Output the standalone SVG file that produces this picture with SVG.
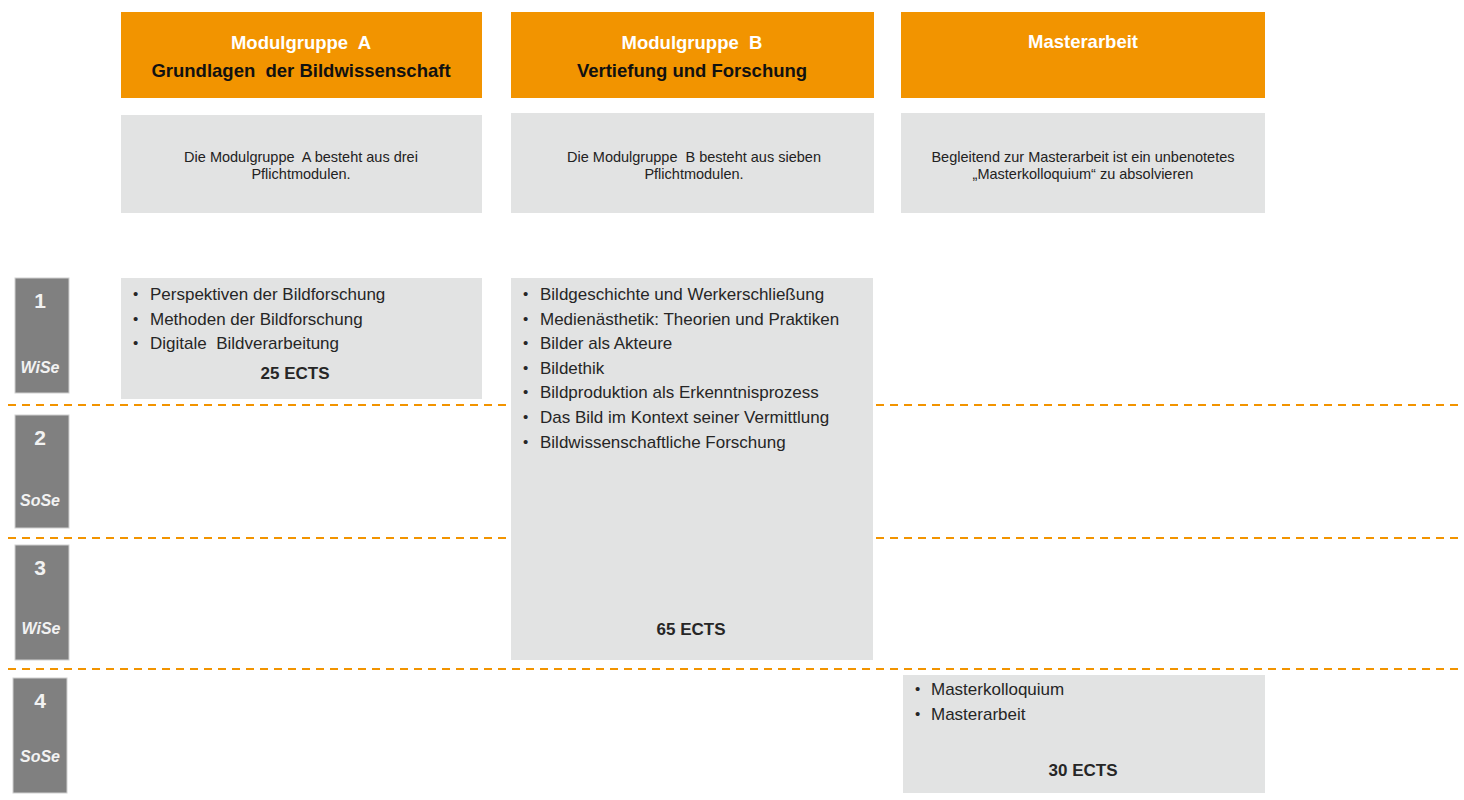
<svg xmlns="http://www.w3.org/2000/svg" width="1464" height="800" viewBox="0 0 1464 800">
<style>
text{font-family:"Liberation Sans",Arial,sans-serif;white-space:pre}
.hdr{fill:#F29400}
.box{fill:#E2E3E3}
.sem{fill:#808080;stroke:#d0d0d0;stroke-width:1}
.h1{font-size:18.5px;font-weight:bold;fill:#fff;text-anchor:middle}
.h2{font-size:18.5px;font-weight:bold;fill:#111;text-anchor:middle}
.desc{font-size:14.5px;fill:#222;text-anchor:middle}
.li{font-size:17px;fill:#262626}
.bu{font-size:15px;fill:#262626}
.ects{font-size:17px;font-weight:bold;fill:#262626;text-anchor:middle}
.num{font-size:21px;font-weight:bold;fill:#f2f2f2;text-anchor:middle}
.ses{font-size:16px;font-weight:bold;font-style:italic;fill:#f2f2f2;text-anchor:middle}
.dash{stroke:#F29400;stroke-width:2;stroke-dasharray:8 6;fill:none}
</style>
<rect width="1464" height="800" fill="#fff"/>
<g id="connectors">
<line class="dash" x1="8" y1="405" x2="1464" y2="405"/>
<line class="dash" x1="8" y1="538" x2="1464" y2="538"/>
<line class="dash" x1="8" y1="669" x2="1464" y2="669"/>
</g>
<g id="header-a">
<rect class="hdr" x="121" y="12" width="361" height="86"/>
<text class="h1" x="301" y="49" xml:space="preserve">Modulgruppe  A</text>
<text class="h2" x="301" y="77" xml:space="preserve">Grundlagen  der Bildwissenschaft</text>
</g>
<g id="header-b">
<rect class="hdr" x="511" y="12" width="363" height="86"/>
<text class="h1" x="692" y="49" xml:space="preserve">Modulgruppe  B</text>
<text class="h2" x="692" y="77">Vertiefung und Forschung</text>
</g>
<g id="header-c">
<rect class="hdr" x="901" y="12" width="364" height="86"/>
<text class="h1" x="1083" y="48">Masterarbeit</text>
</g>
<g id="desc-a">
<rect class="box" x="121" y="115" width="361" height="98"/>
<text class="desc" x="301" y="162" xml:space="preserve">Die Modulgruppe  A besteht aus drei</text>
<text class="desc" x="301" y="179">Pflichtmodulen.</text>
</g>
<g id="desc-b">
<rect class="box" x="511" y="113" width="363" height="100"/>
<text class="desc" x="694" y="162" xml:space="preserve">Die Modulgruppe  B besteht aus sieben</text>
<text class="desc" x="694" y="179">Pflichtmodulen.</text>
</g>
<g id="desc-c">
<rect class="box" x="901" y="113" width="364" height="100"/>
<text class="desc" x="1083" y="162">Begleitend zur Masterarbeit ist ein unbenotetes</text>
<text class="desc" x="1083" y="179">„Masterkolloquium“ zu absolvieren</text>
</g>
<g id="sem-1">
<rect class="sem" x="15" y="278" width="54" height="115"/>
<text class="num" x="40" y="308">1</text>
<text class="ses" x="40" y="373">WiSe</text>
</g>
<g id="sem-2">
<rect class="sem" x="15" y="415" width="54" height="113"/>
<text class="num" x="40" y="445">2</text>
<text class="ses" x="40" y="506">SoSe</text>
</g>
<g id="sem-3">
<rect class="sem" x="15" y="545" width="54" height="115"/>
<text class="num" x="40" y="575">3</text>
<text class="ses" x="41" y="634">WiSe</text>
</g>
<g id="sem-4">
<rect class="sem" x="13" y="678" width="54" height="115"/>
<text class="num" x="40" y="708">4</text>
<text class="ses" x="40" y="762">SoSe</text>
</g>
<g id="modules-a">
<rect class="box" x="121" y="278" width="361" height="121"/>
<text class="bu" x="133" y="299">•</text>
<text class="bu" x="133" y="324">•</text>
<text class="bu" x="133" y="348">•</text>
<text class="li" x="150" y="300">Perspektiven der Bildforschung</text>
<text class="li" x="150" y="325">Methoden der Bildforschung</text>
<text class="li" x="150" y="349" xml:space="preserve">Digitale  Bildverarbeitung</text>
<text class="ects" x="295" y="379">25 ECTS</text>
</g>
<g id="modules-b">
<rect class="box" x="511" y="278" width="362" height="382"/>
<text class="bu" x="523" y="299">•</text>
<text class="bu" x="523" y="324">•</text>
<text class="bu" x="523" y="348">•</text>
<text class="bu" x="523" y="373">•</text>
<text class="bu" x="523" y="397">•</text>
<text class="bu" x="523" y="422">•</text>
<text class="bu" x="523" y="447">•</text>
<text class="li" x="540" y="300">Bildgeschichte und Werkerschließung</text>
<text class="li" x="540" y="325">Medienästhetik: Theorien und Praktiken</text>
<text class="li" x="540" y="349">Bilder als Akteure</text>
<text class="li" x="540" y="374">Bildethik</text>
<text class="li" x="540" y="398">Bildproduktion als Erkenntnisprozess</text>
<text class="li" x="540" y="423">Das Bild im Kontext seiner Vermittlung</text>
<text class="li" x="540" y="448">Bildwissenschaftliche Forschung</text>
<text class="ects" x="691" y="635">65 ECTS</text>
</g>
<g id="modules-c">
<rect class="box" x="903" y="675" width="362" height="118"/>
<text class="bu" x="915" y="694">•</text>
<text class="bu" x="915" y="719">•</text>
<text class="li" x="931" y="695">Masterkolloquium</text>
<text class="li" x="931" y="720">Masterarbeit</text>
<text class="ects" x="1083" y="776">30 ECTS</text>
</g>
</svg>
